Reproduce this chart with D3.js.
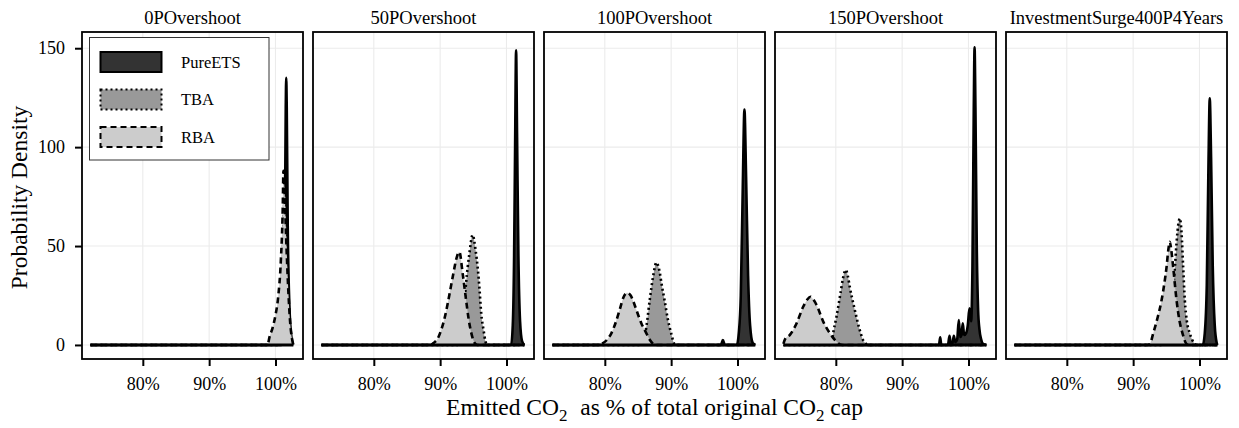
<!DOCTYPE html>
<html>
<head>
<meta charset="utf-8">
<script src="https://cdn.jsdelivr.net/npm/d3@7"></script>
<style>
  body { margin: 0; background: #fff; }
  text { font-family: "Liberation Serif", "DejaVu Serif", serif; fill: #000; }
</style>
</head>
<body>
<script>
// facet titles, series, ticks
var panelNames = ["0POvershoot", "50POvershoot", "100POvershoot", "150POvershoot", "InvestmentSurge400P4Years"];
var seriesNames = ["PureETS", "TBA", "RBA"];
var xTicks = [80, 90, 100];
var yTicks = [0, 50, 100, 150];

// density curves: [emitted % of cap, density], one list per facet
var pureEts = [
  [[72.1,0],[100.9,0],[101.2,8],[101.4,50],[101.55,120],[101.62,135],[101.7,120],[101.85,60],[102.1,20],[102.4,4],[102.7,0]],
  [[72.1,0],[100.7,0],[100.95,10],[101.15,45],[101.3,100],[101.45,149],[101.6,105],[101.8,45],[102.05,12],[102.35,2],[102.7,0]],
  [[72.1,0],[97.5,0],[97.8,2.5],[98.1,0],[99.9,0],[100.2,6],[100.5,25],[100.8,80],[101.05,119],[101.3,85],[101.6,35],[101.9,10],[102.3,1],[102.7,0]],
  [[72.1,0],[95.55,0],[95.74,3.9],[95.9,0],[96.9,0],[97.14,4.6],[97.35,0.5],[97.6,1],[97.79,4.6],[98.0,1.5],[98.3,3],[98.54,12.6],[98.75,4],[98.95,5],[99.14,10.9],[99.35,5],[99.65,6],[99.9,10],[100.15,18.5],[100.4,12],[100.6,40],[100.8,120],[100.92,150.5],[101.05,120],[101.25,50],[101.45,18],[101.65,8],[101.9,3],[102.2,0.5],[102.7,0]],
  [[72.1,0],[100.5,0],[100.8,6],[101.1,30],[101.35,90],[101.55,124.7],[101.75,95],[102.0,40],[102.3,10],[102.6,1],[102.7,0]]
];
var tba = [
  [[72.1,0],[100.2,0],[100.6,6],[101.0,30],[101.3,70],[101.45,78],[101.65,55],[101.9,25],[102.2,6],[102.5,0.5],[102.7,0]],
  [[72.1,0],[92.6,0],[93.0,3],[93.5,14],[93.9,31],[94.4,46],[94.9,55.6],[95.34,48],[95.69,38],[95.94,28],[96.19,16],[96.54,7.6],[96.84,1.7],[97.1,0],[102.7,0]],
  [[72.1,0],[85.5,0],[85.9,3],[86.27,9.3],[86.77,22.7],[87.3,35],[87.77,41.6],[88.2,38],[88.6,30],[89.0,22.7],[89.5,13],[90.0,5.9],[90.5,0.5],[90.8,0],[102.7,0]],
  [[72.1,0],[79.0,0],[79.35,0.5],[79.6,5.9],[80.1,14.3],[80.7,26.1],[81.1,34],[81.5,37.9],[81.8,35],[82.1,29.4],[82.86,17.7],[83.6,7.6],[84.1,2.5],[84.6,0.5],[85.0,0],[102.7,0]],
  [[72.1,0],[94.6,0],[95.2,5],[95.8,20],[96.3,39.5],[96.54,51.4],[96.85,62],[97.04,64],[97.3,56.4],[97.54,39.5],[97.79,22.7],[98.1,12],[98.54,5.9],[99.3,0.5],[99.6,0],[102.7,0]]
];
var rba = [
  [[72.1,0],[98.8,0],[99.1,4],[99.6,9],[100.0,15],[100.4,24],[100.8,42],[101.1,70],[101.2,88],[101.35,80],[101.6,55],[101.9,30],[102.2,12],[102.5,3],[102.7,0]],
  [[72.1,0],[88.6,0],[89.0,1],[89.6,3],[90.2,8],[90.7,14],[91.2,22],[91.65,30],[92.1,38],[92.4,43],[92.9,47],[93.4,36],[93.9,23],[94.3,13],[94.7,6],[95.2,1],[95.6,0],[102.7,0]],
  [[72.1,0],[79.2,0],[79.5,0.5],[80.3,2.5],[81.0,6],[81.6,11],[82.26,18],[82.8,24],[83.36,26.4],[83.9,25],[84.3,22],[84.76,17.7],[85.5,11],[86.27,5.9],[86.8,2.5],[87.3,0.5],[87.6,0],[102.7,0]],
  [[72.1,0.5],[72.35,2.9],[73.08,5.1],[74.09,11],[75.08,19.3],[75.7,23],[76.2,24.4],[76.6,23],[77.1,20.2],[78.1,11.8],[79.1,5.9],[80.1,1.7],[80.6,0.3],[81.0,0],[102.7,0]],
  [[72.1,0],[92.2,0],[92.53,0.5],[93.03,5.9],[93.7,14],[94.29,22.7],[94.7,31],[95.04,39.5],[95.3,48],[95.53,52.2],[95.75,48],[96.03,39.5],[96.54,22.7],[97.0,12],[97.44,5.9],[98.04,0.5],[98.4,0],[102.7,0]]
];

var fills = ["#333333", "#999999", "#cccccc"];
var dashes = ["none", "2,3", "6,4"];

var panelW = 221, panelH = 327, panelTop = 32, firstLeft = 82, panelStep = 231;

var svg = d3.select("body")
  .append("svg")
    .attr("width", 1239)
    .attr("height", 428);

var x = d3.scaleLinear()
  .domain([70.83, 104.15])
  .range([0, panelW]);

var y = d3.scaleLinear()
  .domain([-7.1, 158.2])
  .range([panelH, 0]);

var area = d3.area()
  .curve(d3.curveMonotoneX)
  .x(function(d) { return x(d[0]); })
  .y0(y(0))
  .y1(function(d) { return y(d[1]); });

var line = d3.line()
  .curve(d3.curveMonotoneX)
  .x(function(d) { return x(d[0]); })
  .y(function(d) { return y(d[1]); });

panelNames.forEach(function(name, i) {
  var g = svg.append("g")
    .attr("transform", "translate(" + (firstLeft + i * panelStep) + "," + panelTop + ")");

  g.append("rect")
    .attr("width", panelW)
    .attr("height", panelH)
    .attr("fill", "#fff");

  // grid
  g.selectAll(".vgrid")
    .data(xTicks)
    .enter()
    .append("line")
      .attr("x1", function(d) { return x(d); })
      .attr("x2", function(d) { return x(d); })
      .attr("y1", 0)
      .attr("y2", panelH)
      .attr("stroke", "#ebebeb")
      .attr("stroke-width", 1.1);
  g.selectAll(".hgrid")
    .data(yTicks)
    .enter()
    .append("line")
      .attr("x1", 0)
      .attr("x2", panelW)
      .attr("y1", function(d) { return y(d); })
      .attr("y2", function(d) { return y(d); })
      .attr("stroke", "#ebebeb")
      .attr("stroke-width", 1.1);

  // densities, drawn in legend order so RBA ends up on top
  var curves = [pureEts[i], tba[i], rba[i]];
  curves.forEach(function(pts, s) {
    g.append("path")
      .datum(pts)
      .attr("d", area)
      .attr("fill", fills[s]);
    g.append("path")
      .datum(pts)
      .attr("d", line)
      .attr("fill", "none")
      .attr("stroke", "#000")
      .attr("stroke-width", 2.6)
      .attr("stroke-dasharray", dashes[s]);
  });

  // the zero baseline shared by all curves reads as one solid stroke
  var xr = d3.extent(d3.merge(curves), function(d) { return d[0]; });
  g.append("line")
    .attr("x1", x(xr[0]))
    .attr("x2", x(xr[1]))
    .attr("y1", y(0))
    .attr("y2", y(0))
    .attr("stroke", "#000")
    .attr("stroke-width", 3);

  g.append("rect")
    .attr("width", panelW)
    .attr("height", panelH)
    .attr("fill", "none")
    .attr("stroke", "#000")
    .attr("stroke-width", 1.8);

  var xa = g.append("g")
    .attr("transform", "translate(0," + panelH + ")")
    .call(d3.axisBottom(x).tickValues(xTicks).tickSize(7).tickPadding(11)
      .tickFormat(function(d) { return d + "%"; }));
  xa.select(".domain").remove();
  xa.selectAll("line").attr("stroke", "#000").attr("stroke-width", 2);
  xa.selectAll("text").style("font-size", "18px").attr("fill", "#000")
    .style("font-family", "Liberation Serif, serif");

  if (i === 0) {
    var ya = g.append("g")
      .call(d3.axisLeft(y).tickValues(yTicks).tickSize(7).tickPadding(10));
    ya.select(".domain").remove();
    ya.selectAll("line").attr("stroke", "#000").attr("stroke-width", 2);
    ya.selectAll("text").style("font-size", "18px").attr("fill", "#000")
      .style("font-family", "Liberation Serif, serif");
  }

  g.append("text")
    .attr("x", panelW / 2)
    .attr("y", -8)
    .style("text-anchor", "middle")
    .style("font-size", "18.5px")
    .text(name);
});

// legend
var leg = svg.append("g").attr("transform", "translate(89.5,37.5)");
leg.append("rect")
  .attr("width", 179.5)
  .attr("height", 122.5)
  .attr("fill", "#fff")
  .attr("stroke", "#333")
  .attr("stroke-width", 1);
seriesNames.forEach(function(s, k) {
  leg.append("rect")
    .attr("x", 11)
    .attr("y", 14.5 + k * 37.5)
    .attr("width", 61)
    .attr("height", 20)
    .attr("fill", fills[k])
    .attr("stroke", "#000")
    .attr("stroke-width", 2)
    .attr("stroke-dasharray", dashes[k]);
  leg.append("text")
    .attr("x", 91.5)
    .attr("y", 24.5 + k * 37.5)
    .attr("dy", "0.35em")
    .style("font-size", "16.5px")
    .text(s);
});

// axis titles
svg.append("text")
  .attr("transform", "translate(27," + (panelTop + panelH / 2 + 2) + ") rotate(-90)")
  .style("text-anchor", "middle")
  .style("font-size", "23.5px")
  .text("Probability Density");

var xt = svg.append("text")
  .attr("x", (firstLeft + 4 * panelStep + panelW + firstLeft) / 2)
  .attr("y", 415)
  .style("text-anchor", "middle")
  .style("font-size", "23.5px");
xt.append("tspan").text("Emitted CO");
xt.append("tspan").attr("dy", 6).style("font-size", "17px").text("2");
xt.append("tspan").attr("dy", -6).attr("dx", 7).text(" as % of total original CO");
xt.append("tspan").attr("dy", 6).style("font-size", "17px").text("2");
xt.append("tspan").attr("dy", -6).text(" cap");
</script>
</body>
</html>
